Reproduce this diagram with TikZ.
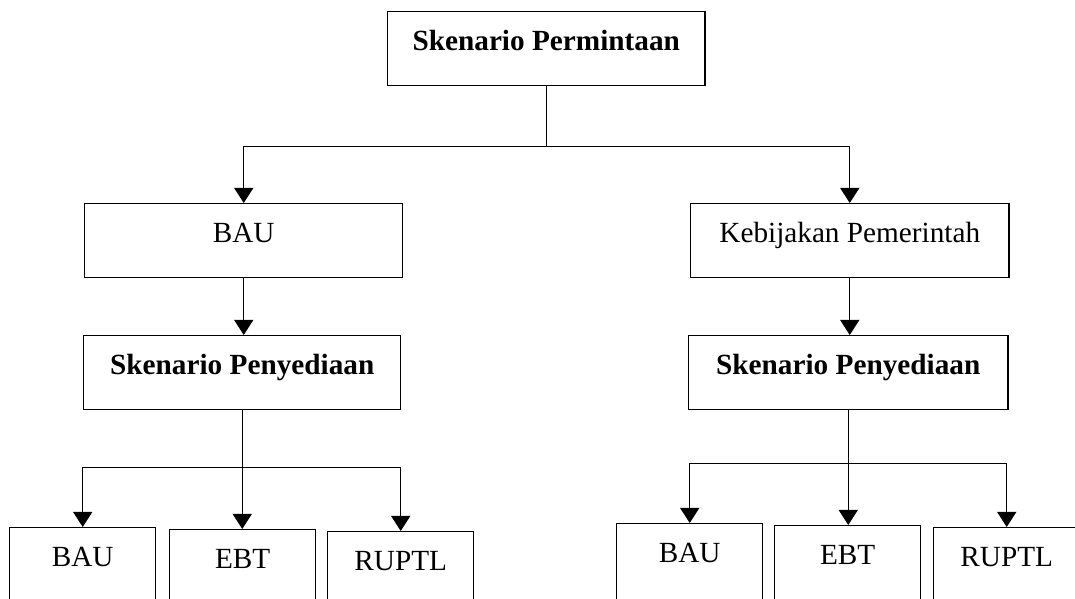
\documentclass[tikz,border=0pt]{standalone}
\usepackage{fontspec}
\setmainfont{Liberation Serif}
\usepackage{tikz}
\usetikzlibrary{arrows.meta}
\tikzset{kotak/.style={draw, inner sep=0pt, anchor=north west, align=center, minimum width=#1, text height=0.975cm, text depth=0.875cm}}
\tikzset{kecil/.style={kotak=3.65cm, text depth=1.525cm}}
\tikzset{panah/.style={-{Triangle[width=0.48cm,length=0.38cm]}}}

\begin{document}
\begin{tikzpicture}[x=0.025cm,y=-0.025cm,font=\fontsize{20.8}{24}\selectfont,line width=1pt]
\useasboundingbox (0,0) rectangle (1075,598);
\clip (0,0) rectangle (1075,598);
\node[kotak=7.925cm] (minta) at (387,11) {\textbf{Skenario Permintaan}};
\node[kotak=7.95cm] (bau) at (84,203) {BAU};
\node[kotak=7.95cm] (kebijakan) at (690,203) {Kebijakan Pemerintah};
\node[kotak=7.925cm] (sediaA) at (83,335) {\textbf{Skenario Penyediaan}};
\node[kotak=7.975cm] (sediaB) at (688,335) {\textbf{Skenario Penyediaan}};
% kiri bawah
\node[kecil] (bauA) at (9,527) {BAU};
\node[kecil] (ebtA) at (169,529) {EBT};
\node[kecil] (ruptlA) at (327,531) {RUPTL};
% kanan bawah
\node[kecil] (bauB) at (616,523) {BAU};
\node[kecil] (ebtB) at (774,525) {EBT};
\node[kecil] (ruptlB) at (933,527) {RUPTL};

\draw (minta.south) -- ++(0,60) coordinate (c1);
\draw[panah] (c1) -| (bau.north);
\draw[panah] (c1) -| (kebijakan.north);
\draw[panah] (bau.south) -- (sediaA.north -| bau.south);
\draw[panah] (kebijakan.south) -- (sediaB.north -| kebijakan.south);

\path (sediaA.south) ++(0,57) coordinate (c2);
\draw[panah] (sediaA.south) -- (sediaA.south |- ebtA.north);
\draw[panah] (c2) -| (bauA.north);
\draw[panah] (c2) -| (ruptlA.north);

\path (sediaB.south) ++(0,53) coordinate (c3);
\draw[panah] (sediaB.south) -- (sediaB.south |- ebtB.north);
\draw[panah] (c3) -| (bauB.north);
\draw[panah] (c3) -| (ruptlB.north);
\end{tikzpicture}
\end{document}
